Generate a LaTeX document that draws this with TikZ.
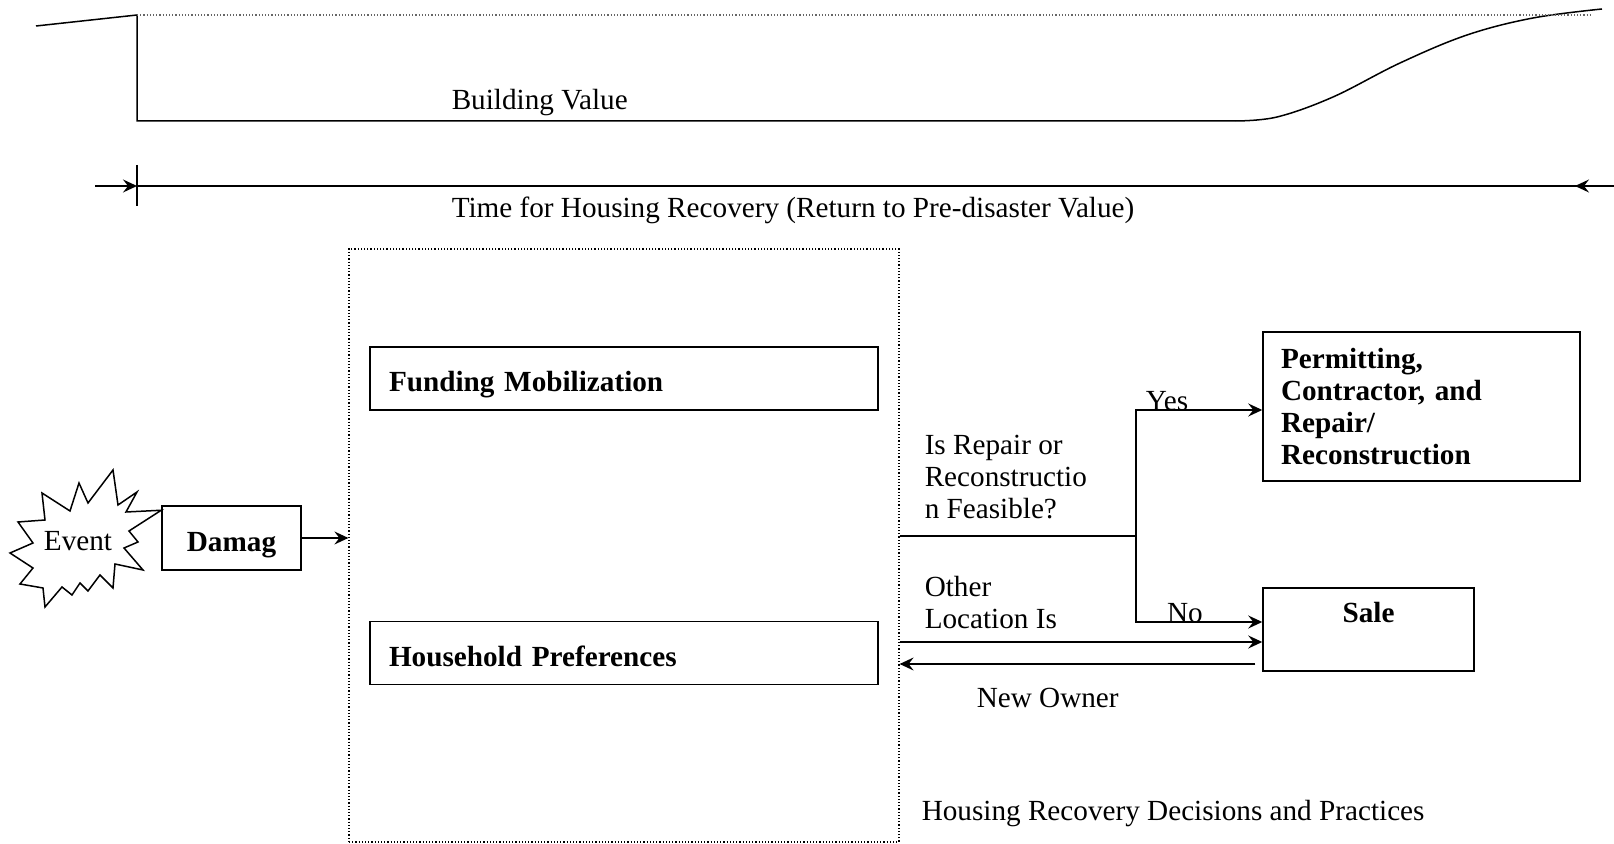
\documentclass[tikz,border=0pt]{standalone}
\usepackage{fontspec}
\setmainfont{Liberation Serif}
\usetikzlibrary{arrows.meta}
\begin{document}
\begin{tikzpicture}[x=0.5pt,y=-0.5pt,line width=0.75pt,
  every node/.style={font=\fontsize{14.6}{16}\selectfont},
  box/.style={draw,line width=0.75pt,font=\fontsize{14.6}{16}\selectfont\bfseries},
  onebox/.style={box,text height=14pt,text depth=0.5pt},
  txt/.style={anchor=west,align=left,inner sep=0pt},
  arr/.style={-{Stealth[length=7pt,width=6.5pt,inset=2.5pt]}}]
\useasboundingbox (0,0) rectangle (1614,844);

% building value
\pgfmathsetmacro{\yhi}{15}
\pgfmathsetmacro{\ylo}{121}

  \coordinate (pre) at (36,26);
  \coordinate (ev) at (137,\yhi);
  \draw (pre) -- (ev) -- (137,\ylo) -- (1235,\ylo);
  \draw plot[smooth,tension=0.6] coordinates {(1235,\ylo) (1277,117) (1333,97) (1400,63) (1467,35) (1533,18) (1602,9)};
  \draw[black!60,densely dotted,line width=0.6pt] (ev) -- (1590,\yhi);
  \node[txt] (bval) at (451,103) {Building Value};

% recovery time
\pgfmathsetmacro{\yt}{186}

  \coordinate (t0) at (137,\yt);
  \coordinate (t1) at (1614,\yt);
  \draw[arr] (95,\yt) -- (t0);
  \draw (137,165) -- (137,206);
  \draw (t0) -- (t1);
  \draw[arr] (t1) -- (1575,\yt);
  \node[txt] (tlabel) at (451,210) {Time for Housing Recovery (Return to Pre-disaster Value)};

% decisions and practices
  \node[draw,densely dotted,line width=0.6pt,minimum width=275pt,minimum height=296.5pt] (frame) at (624,545.5) {};
  \node[onebox,text width=235pt,inner xsep=9.5pt,minimum height=31.5pt,align=left] (fund) at (624,378.5) {Funding Mobilization};
  \node[onebox,text width=235pt,inner xsep=9.5pt,minimum height=31.5pt,align=left] (pref) at (624,653) {Household Preferences};
  \node[txt] (hrdp) at (921,814) {Housing Recovery Decisions and Practices};

% event and damage
  \node[onebox,minimum width=69.5pt,minimum height=32pt] (damag) at (231.5,538) {Damag};
  \node[inner sep=0pt] (event) at (78,541) {Event};
  \draw (113,470) -- (118,505) -- (137,492) -- (126,512) -- ([yshift=-2.5pt]damag.north west) -- (129,531)
    -- (138,542) -- (124,548) -- (143,570) -- (115,564) -- (113,588) -- (100,575) -- (88,591) -- (80,583)
    -- (72,595) -- (62,587) -- (45,607) -- (43,588) -- (20,584) -- (33,568) -- (10,553) -- (33,543)
    -- (18,522) -- (45,520) -- (42,493) -- (70,511) -- (79,483) -- (88,503) -- cycle;
  \draw[arr] (damag.east) -- (frame.west |- damag.east);

% outcomes
  \node[box,text width=140.5pt,inner xsep=9pt,minimum height=74.5pt,align=left] (perm) at (1421.5,406.5) {Permitting,\\Contractor, and\\Repair/\\Reconstruction};
  \node[box,minimum width=105.5pt,text height=10pt,text depth=17.3pt,inner ysep=7pt] (sale) at (1368.5,629.5) {Sale};

  \coordinate (split) at (1136,536);
  \coordinate (other) at ([yshift=-6.25pt]sale.west);
  \coordinate (back) at ([xshift=-3.5pt,yshift=-17.25pt]sale.west);
  \draw (frame.east |- split) -- (split);
  \draw[arr] (split) |- ([yshift=-1.75pt]perm.west);
  \draw[arr] (split) |- ([yshift=3.75pt]sale.west);
  \draw[arr] (frame.east |- other) -- (other);
  \draw[arr] (back) -- (frame.east |- back);
  \node[anchor=base,inner sep=0pt] (yes) at (1167,411) {Yes};
  \node[anchor=base,inner sep=0pt] (no) at (1185,623) {No};

% labels
  \node[txt] (qfeas) at (924,477) {Is Repair or\\Reconstructio\\n Feasible?};
  \node[txt] (qloc) at (924,603) {Other\\Location Is};
  \node[txt] (nowner) at (976,698) {New Owner};

\end{tikzpicture}
\end{document}
